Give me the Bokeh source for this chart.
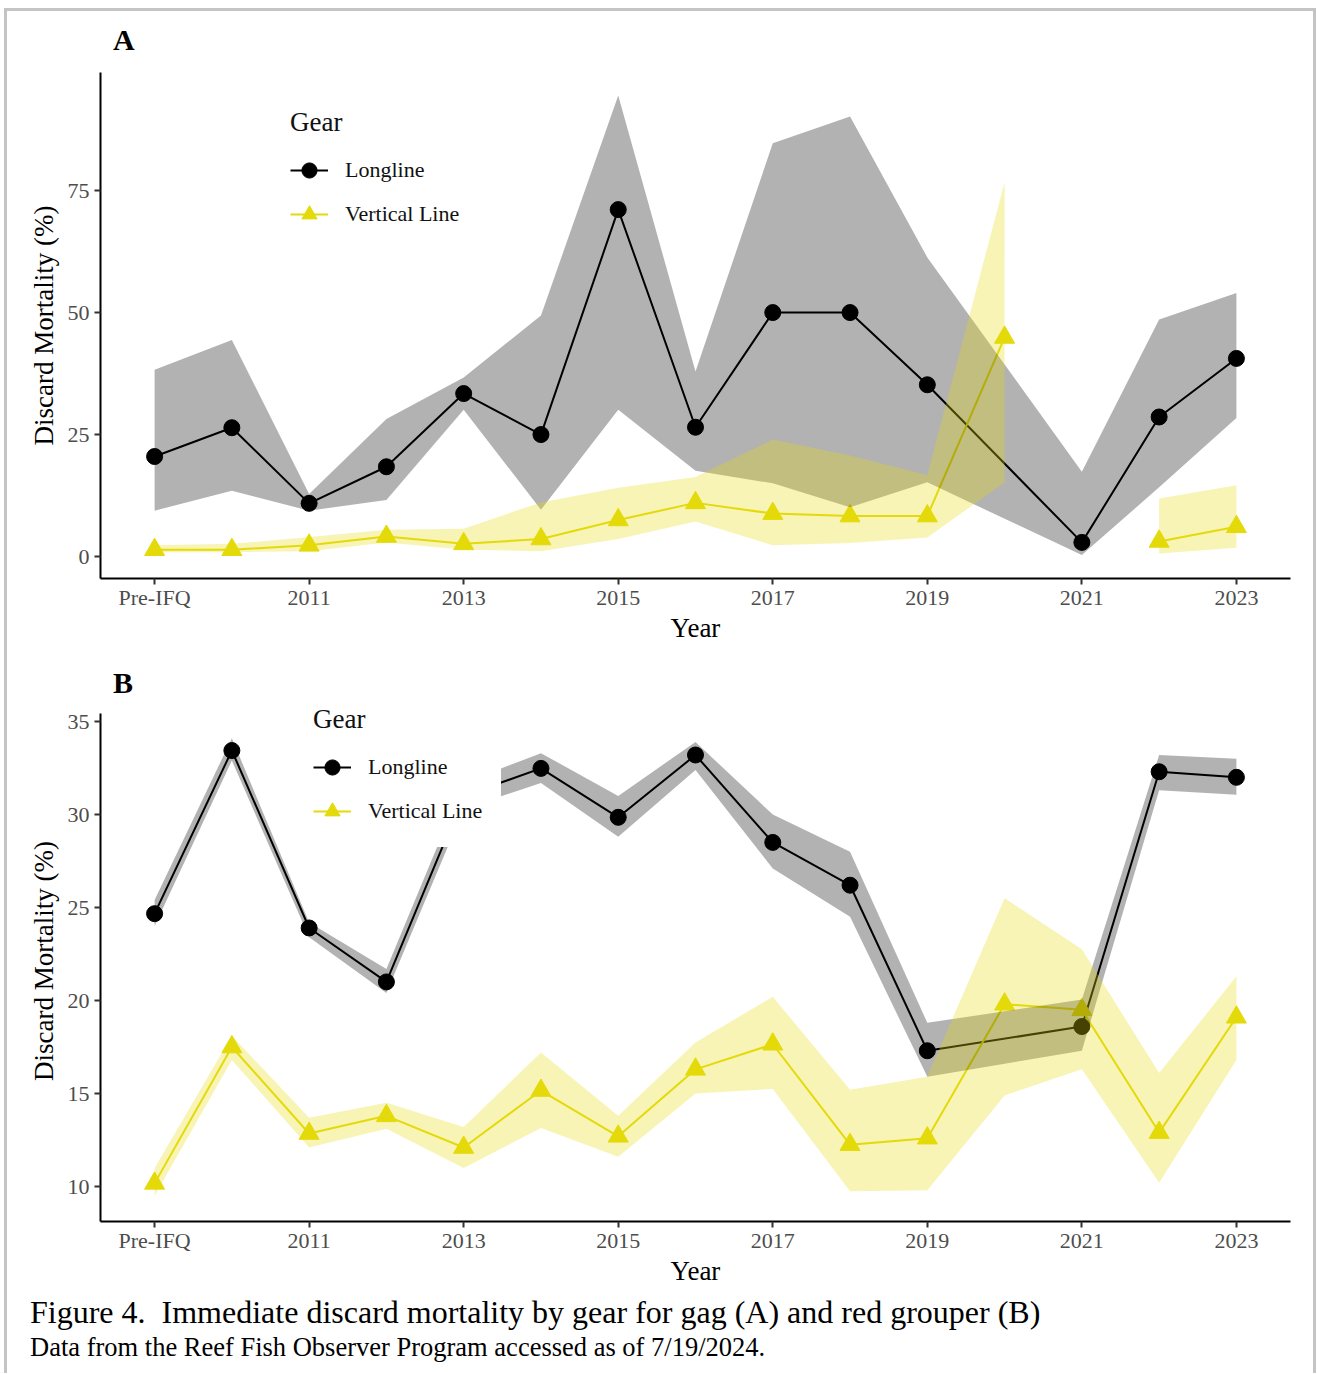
import math
from bokeh.plotting import figure
from bokeh.models import FixedTicker, Legend, LegendItem, Div, Range1d
from bokeh.layouts import column
from bokeh.embed import file_html
from bokeh.resources import INLINE

nan = float("nan")

# ---------------- data ----------------
years = ["Pre-IFQ", "2010", "2011", "2012", "2013", "2014", "2015", "2016",
         "2017", "2018", "2019", "2020", "2021", "2022", "2023"]
tick_years = ["Pre-IFQ", "2011", "2013", "2015", "2017", "2019", "2021", "2023"]

# Panel A: gag
gag_ll_mean = [20.5, 26.4, 10.9, 18.4, 33.4, 25.0, 71.1, 26.5, 50.0, 50.0, 35.2, nan, 2.9, 28.6, 40.6]
gag_ll_lower = [9.4, 13.5, 9.4, 11.6, 30.1, 9.6, 30.1, 17.6, 15.0, 10.1, 15.2, nan, 0.3, 14.2, 28.4]
gag_ll_upper = [38.3, 44.4, 12.8, 28.2, 36.7, 49.4, 94.5, 37.9, 84.7, 90.2, 61.3, nan, 17.4, 48.6, 54.0]
gag_vl_mean = [1.4, 1.4, 2.3, 4.1, 2.6, 3.6, 7.5, 11.0, 8.8, 8.3, 8.3, 44.9, nan, 3.1, 6.1]
gag_vl_lower = [0.9, 0.9, 1.1, 2.9, 1.4, 1.1, 3.6, 7.2, 2.3, 2.8, 3.9, 15.2, nan, 0.6, 1.8]
gag_vl_upper = [2.3, 2.6, 4.0, 5.5, 5.7, 11.1, 14.1, 16.3, 24.0, 20.7, 16.7, 76.7, nan, 11.9, 14.6]

# Panel B: red grouper
rg_ll_mean = [24.67, 33.44, 23.9, 21.0, 31.0, 32.48, 29.85, 33.2, 28.5, 26.2, 17.3, nan, 18.6, 32.3, 32.0]
rg_ll_lower = [24.0, 32.9, 23.4, 20.4, 30.3, 31.7, 28.8, 32.4, 27.1, 24.5, 15.9, nan, 17.3, 31.3, 31.06]
rg_ll_upper = [25.4, 34.1, 24.2, 21.7, 31.7, 33.3, 31.0, 33.9, 30.0, 28.0, 18.8, nan, 20.05, 33.2, 33.0]
rg_vl_mean = [10.17, 17.5, 12.85, 13.8, 12.1, 15.16, 12.7, 16.3, 17.65, 12.25, 12.6, 19.8, 19.5, 12.9, 19.1]
rg_vl_lower = [9.5, 16.8, 12.1, 13.1, 11.0, 13.15, 11.6, 15.0, 15.25, 9.75, 9.8, 14.9, 16.3, 10.2, 16.8]
rg_vl_upper = [11.0, 18.1, 13.7, 14.5, 13.2, 17.2, 13.8, 17.75, 20.2, 15.2, 15.9, 25.5, 22.75, 16.1, 21.3]

gears = ["Longline", "Vertical Line"]
# ---------------------------------------

FONT = "Liberation Serif"
BLACK = "#000000"
YELLOW = "#E4DA0A"
xpos = list(range(len(years)))
tick_pos = [years.index(t) for t in tick_years]


def valid(*cols):
    return [i for i in xpos if all(not math.isnan(c[i]) for c in cols)]


def runs(*cols):
    out, cur = [], []
    for i in xpos:
        if all(not math.isnan(c[i]) for c in cols):
            cur.append(i)
        else:
            if cur:
                out.append(cur)
            cur = []
    if cur:
        out.append(cur)
    return out


def panel(ll, vl, yr, yticks, ybounds, top, bottom, fh, legend_loc,
          connect_ll=True, connect_vl=False):
    p = figure(frame_width=1190, frame_height=fh, min_border_left=93, min_border_right=23,
               min_border_top=top, min_border_bottom=bottom,
               x_range=Range1d(-0.7, 14.7), y_range=Range1d(*yr),
               output_backend="svg", toolbar_location=None,
               background_fill_color="white", border_fill_color="white")
    p.outline_line_color = None
    p.grid.visible = False

    for ax in (p.xaxis[0], p.yaxis[0]):
        ax.axis_line_color = BLACK
        ax.axis_line_width = 2
        ax.major_tick_line_color = "#333333"
        ax.major_tick_line_width = 2
        ax.major_tick_out = 6
        ax.major_tick_in = 0
        ax.minor_tick_line_color = None
        ax.major_label_text_font = FONT
        ax.major_label_text_font_size = "22px"
        ax.major_label_text_color = "#4d4d4d"
        ax.axis_label_text_font = FONT
        ax.axis_label_text_font_size = "27px"
        ax.axis_label_text_font_style = "normal"
        ax.axis_label_text_color = BLACK
    p.xaxis.axis_label = "Year"
    p.yaxis.axis_label = "Discard Mortality (%)"
    p.xaxis.ticker = FixedTicker(ticks=tick_pos)
    p.xaxis.major_label_overrides = {i: years[i] for i in tick_pos}
    p.xaxis.major_label_standoff = 0
    p.xaxis.axis_label_standoff = 0
    p.yaxis.ticker = FixedTicker(ticks=yticks)
    p.yaxis.bounds = ybounds
    p.yaxis.major_label_standoff = 5
    p.yaxis.axis_label_standoff = 6

    series = [(ll, BLACK, "circle", 16, connect_ll), (vl, YELLOW, "triangle", 20, connect_vl)]
    rend = []
    for (m, lo, hi), col, mk, sz, conn in series:
        segs = [valid(m)] if conn else runs(m)
        lines = []
        for s in segs:
            lines.append(p.line([xpos[i] for i in s], [m[i] for i in s], line_color=col, line_width=2))
        rend.append(lines)
    pts = []
    for (m, lo, hi), col, mk, sz, conn in series:
        s = valid(m)
        pts.append(p.scatter([xpos[i] for i in s], [m[i] for i in s], marker=mk, size=sz,
                             fill_color=col, line_color=col, line_width=1))
    for (m, lo, hi), col, mk, sz, conn in series:
        segs = [valid(lo, hi)] if conn else runs(lo, hi)
        for s in segs:
            p.varea(x=[xpos[i] for i in s], y1=[lo[i] for i in s], y2=[hi[i] for i in s],
                    fill_color=col, fill_alpha=0.3)
    items = [LegendItem(label=g, renderers=[lines[0], pt]) for g, lines, pt in zip(gears, rend, pts)]
    leg = Legend(items=items, location=legend_loc, title="Gear",
                 title_text_font=FONT, title_text_font_size="27px", title_text_font_style="normal",
                 title_text_color="#111111", title_standoff=12,
                 label_text_font=FONT, label_text_font_size="22px", label_text_color="#111111",
                 glyph_width=38, glyph_height=40, label_height=40, label_width=117,
                 label_standoff=17, spacing=4, padding=16, margin=0,
                 border_line_color="white", border_line_alpha=0.0,
                 background_fill_color="white", background_fill_alpha=1.0)
    p.add_layout(leg)
    return p


def panel_label(txt, height, pad_top):
    return Div(text=(f'<div style="font-family:\'Liberation Serif\';font-weight:bold;font-size:30px;'
                     f'line-height:34px;color:#000;padding:{pad_top}px 0 0 106px;">{txt}</div>'),
               width=1306, height=height, margin=0)


# panel A: frame 72 -> 578 ; panel B: frame 700 -> 1221 (axis line bounded to data range)
labA = panel_label("A", 41, 12)
pA = panel((gag_ll_mean, gag_ll_lower, gag_ll_upper), (gag_vl_mean, gag_vl_lower, gag_vl_upper),
           (-4.5, 99.2), [0, 25, 50, 75], (-4.5, 99.2), top=20, bottom=74, fh=506,
           legend_loc=(174, 328))
labB = panel_label("B", 46, 14)
pB = panel((rg_ll_mean, rg_ll_lower, rg_ll_upper), (rg_vl_mean, rg_vl_lower, rg_vl_upper),
           (8.12, 36.13), [10, 15, 20, 25, 30, 35], (8.12, 35.43), top=2, bottom=74, fh=521,
           legend_loc=(197, 374))

caption = Div(text=(
    '<div style="font-family:\'Liberation Serif\';color:#000;padding:0 0 0 23px;">'
    '<div style="font-size:32px;line-height:34px;white-space:nowrap;">'
    'Figure 4.&nbsp; Immediate discard mortality by gear for gag (A) and red grouper (B)</div>'
    '<div style="font-size:26.5px;line-height:36px;white-space:nowrap;">'
    'Data from the Reef Fish Observer Program accessed as of 7/19/2024.</div></div>'),
    width=1306, height=78, margin=0)

layout = column(labA, pA, labB, pB, caption, spacing=0,
                styles={"margin-left": "4px", "margin-top": "8px",
                        "border-top": "3px solid #c4c4c4", "border-left": "3px solid #c4c4c4",
                        "border-right": "3px solid #c4c4c4", "background-color": "white"})

open("out.html", "w").write(file_html(layout, INLINE))
